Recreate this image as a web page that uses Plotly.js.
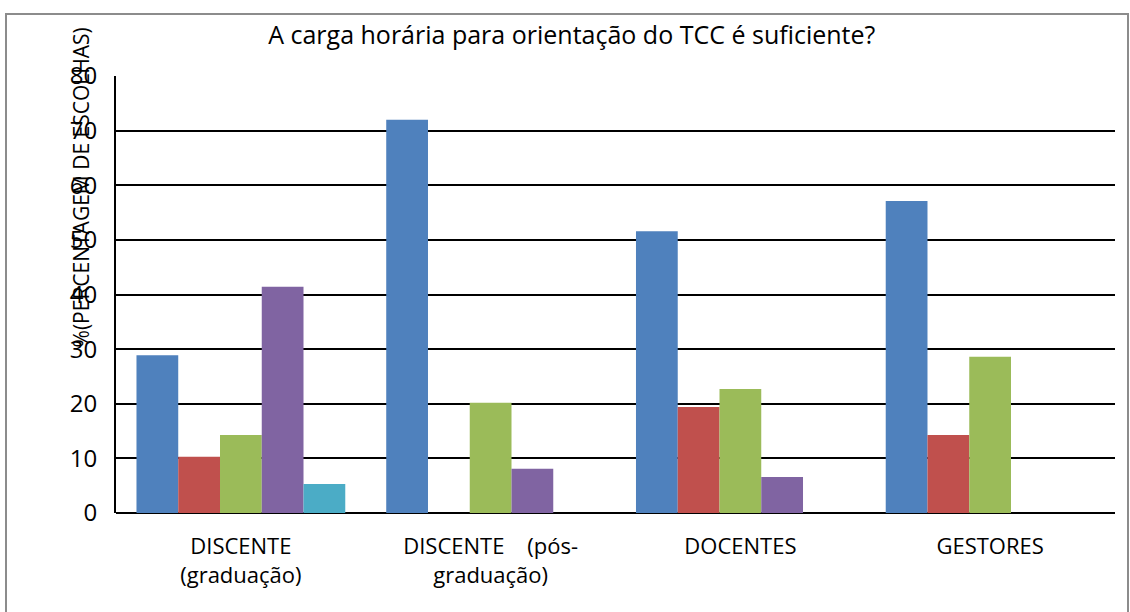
<!DOCTYPE html>
<html>
<head>
<meta charset="utf-8">
<script src="https://cdn.plot.ly/plotly-3.0.1.min.js"></script>
<style>
html,body{margin:0;padding:0;background:#fff;}
#chart{width:1130px;height:612px;position:absolute;left:0;top:0;}
#frame{position:absolute;left:5px;top:13px;width:1120px;height:620px;border:2px solid #8c8c8c;pointer-events:none;}
</style>
</head>
<body>
<div id="chart"></div>
<div id="frame"></div>
<script>
const categories = ["DISCENTE<br>(graduação)", "DISCENTE    (pós-<br>graduação)", "DOCENTES", "GESTORES"];
const seriesNames = ["Série 1", "Série 2", "Série 3", "Série 4", "Série 5"];
const s1 = [28.9, 72.0, 51.6, 57.1];
const s2 = [10.3, 0, 19.4, 14.3];
const s3 = [14.3, 20.2, 22.7, 28.6];
const s4 = [41.4, 8.1, 6.6, 0];
const s5 = [5.3, 0, 0, 0];
const colors = ["#4F81BD", "#C0504D", "#9BBB59", "#8064A2", "#4BACC6"];
const yTicks = [0, 10, 20, 30, 40, 50, 60, 70, 80];

const allSeries = [s1, s2, s3, s4, s5];
const traces = allSeries.map((vals, i) => ({
  type: 'bar',
  x: categories,
  y: vals,
  name: seriesNames[i],
  marker: {color: colors[i], line: {width: 0}},
  hoverinfo: 'y'
}));

const font = "'Open Sans', 'Liberation Sans', sans-serif";
const layout = {
  width: 1130,
  height: 612,
  margin: {l: 116, r: 15, t: 76, b: 99},
  paper_bgcolor: '#fff',
  plot_bgcolor: '#fff',
  barmode: 'group',
  bargap: 0.164,
  bargroupgap: 0,
  showlegend: false,
  font: {family: font, color: '#000'},
  title: {
    text: 'A carga horária para orientação do TCC é suficiente?',
    font: {family: font, size: 25, color: '#000'},
    xref: 'container', x: 0.506, xanchor: 'center',
    yref: 'container', y: 0.943, yanchor: 'middle'
  },
  xaxis: {
    type: 'category',
    showgrid: false,
    showline: false,
    zeroline: false,
    ticks: '',
    tickfont: {family: font, size: 22, color: '#000'},
    ticklabelstandoff: 18
  },
  yaxis: {
    range: [0, 80],
    tickvals: yTicks,
    ticktext: yTicks.map(String),
    showgrid: true,
    gridcolor: '#000',
    gridwidth: 2,
    showline: true,
    linecolor: '#000',
    linewidth: 2,
    zeroline: true,
    zerolinecolor: '#000',
    zerolinewidth: 2,
    ticks: '',
    ticklabelstandoff: 12,
    tickfont: {family: font, size: 24, color: '#000'}
  },
  annotations: [{
    text: '%(PERCENTAGEM DE ESCOLHAS)',
    textangle: -90,
    xref: 'paper', yref: 'paper',
    x: -0.035, y: 0.745,
    xanchor: 'center', yanchor: 'middle',
    showarrow: false,
    font: {family: font, size: 21, color: '#000'}
  }]
};

Plotly.newPlot('chart', traces, layout, {displayModeBar: false, staticPlot: true});
</script>
</body>
</html>
